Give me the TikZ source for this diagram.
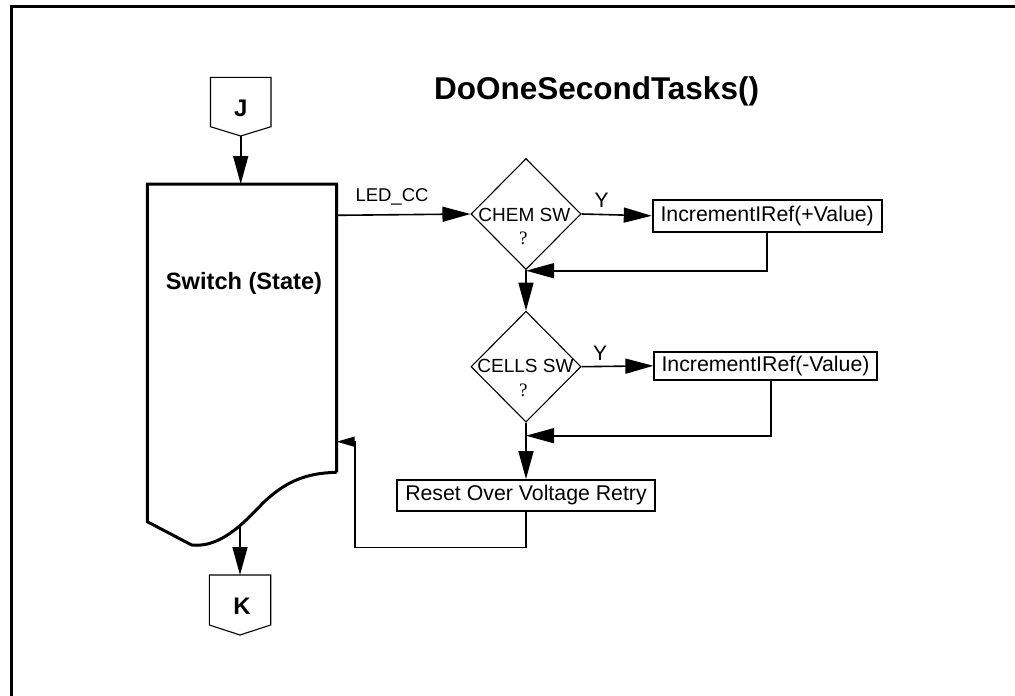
\documentclass[tikz,border=0pt]{standalone}
\usepackage{fontspec}
\setmainfont{Liberation Sans}
\newfontfamily\qmarkfont{Liberation Serif}
\usetikzlibrary{arrows.meta,shapes.geometric}

\begin{document}
\begin{tikzpicture}[x=1pt,y=-1pt,
  flowarrow/.style={line width=1.6pt, -{Triangle[length=28pt, width=15pt]}},
  backarrow/.style={line width=1.6pt, -{Triangle[length=18pt, width=10pt]}},
  taskbox/.style={draw, line width=1.8pt, inner sep=0pt, font=\fontsize{21.3}{24}\selectfont},
  testdiamond/.style={draw, diamond, line width=1.1pt, inner sep=0pt, minimum width=110pt, minimum height=111pt},
  testlabel/.style={font=\fontsize{19}{22}\selectfont, anchor=base},
  qlabel/.style={font=\qmarkfont\fontsize{19}{22}\selectfont, anchor=base},
  offpage/.style={line width=1.1pt},
  conlabel/.style={font=\bfseries\fontsize{24}{27}\selectfont, anchor=base}]
\useasboundingbox (0,0) rectangle (1015,696);
\draw[line width=3.5pt] (11.5,696) -- (11.5,6.5) -- (1015,6.5);
\node[font=\bfseries\fontsize{31.5}{35}\selectfont, anchor=base] (title) at (596.5,99) {DoOneSecondTasks()};

\draw[offpage] (210.5,77.3) -- (271,77.3) -- (271,126.7) -- (240.7,136) -- (210.5,126.7) -- cycle;
\coordinate (Jtip) at (240.7,136);
\node[conlabel] (J) at (240.7,116.7) {J};

\draw[line width=3pt] (336.7,472.3) -- (336.7,184) -- (147.3,184) -- (147.3,521.7) -- (191.7,545)
  .. controls (220,548) and (243,524) .. (263,503)
  .. controls (285,482) and (305,473) .. (336.7,472.3);
\coordinate (swtop) at (240.7,184);
\coordinate (swout) at (336.7,215.3);
\coordinate (swin) at (336.7,441.7);
\coordinate (swbot) at (240,526.5);
\node[font=\bfseries\fontsize{23.6}{26}\selectfont, anchor=base] (switch) at (244,289) {Switch (State)};

\draw[offpage] (209.3,575) -- (270.7,575) -- (270.7,625) -- (240,635) -- (209.3,625) -- cycle;
\coordinate (Ktop) at (240,575);
\node[conlabel] (K) at (242,614.3) {K};

\node[testdiamond] (chem) at (526,214) {};
\node[testlabel] (chemtxt) at (524.3,221.7) {CHEM SW};
\node[qlabel] (chemq) at (523.3,244) {?};
\node[testdiamond] (cells) at (526,366.7) {};
\node[testlabel] (cellstxt) at (525.5,372.7) {CELLS SW};
\node[qlabel] (cellsq) at (523.3,396.7) {?};

\node[taskbox, minimum width=229pt, minimum height=31.7pt] (incplus) at (767.2,215.8) {IncrementIRef(+Value)};
\node[taskbox, minimum width=222.4pt, minimum height=28.3pt] (incminus) at (765.5,365.8) {IncrementIRef(-Value)};
\node[taskbox, minimum width=257.3pt, minimum height=30.7pt] (reset) at (526,495.3) {Reset Over Voltage Retry};

\coordinate (j1) at (526,270.7);
\coordinate (j2) at (526,435.7);
\coordinate (loop) at (355,547.5);

\draw[flowarrow] (Jtip) -- (swtop);
\draw[flowarrow] (swbot) -- (Ktop);
\draw[flowarrow] (swout) -- (chem.west);
\node[font=\fontsize{18.5}{21}\selectfont, anchor=base] (ledcc) at (392,201.7) {LED\_CC};
\draw[flowarrow] (chem.east) -- (incplus.west);
\node[font=\fontsize{21}{24}\selectfont, anchor=base] (ychem) at (601.7,207.3) {Y};
\draw[flowarrow] (incplus.south) |- (j1);
\draw[line width=1.6pt] (chem.south) -- (j1);
\draw[flowarrow] (j1) -- (cells.north);
\draw[flowarrow] (cells.east) -- (incminus.west);
\node[font=\fontsize{21}{24}\selectfont, anchor=base] (ycells) at (600,360) {Y};
\draw[flowarrow] ([xshift=5.5pt]incminus.south) |- (j2);
\draw[line width=1.6pt] (cells.south) -- (j2);
\draw[flowarrow] (j2) -- (reset.north);
\draw[backarrow] (reset.south) |- (loop) |- (swin);
\end{tikzpicture}
\end{document}
